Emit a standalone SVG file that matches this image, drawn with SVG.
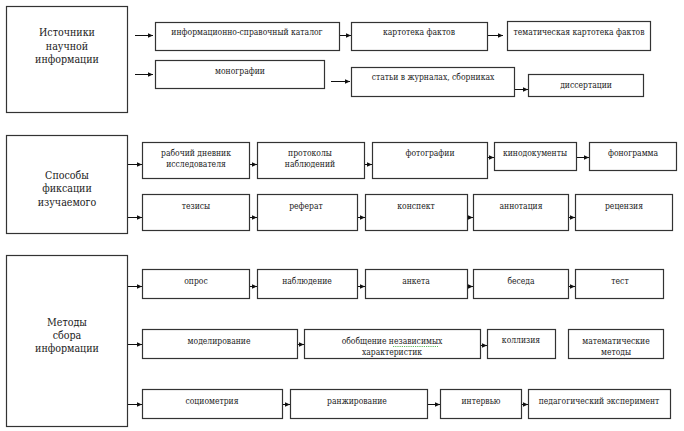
<svg xmlns="http://www.w3.org/2000/svg" width="684" height="431" viewBox="0 0 684 431">
<defs>
<marker id="ah" markerUnits="userSpaceOnUse" markerWidth="6" markerHeight="6" refX="5.5" refY="3" orient="auto">
<path d="M0,0.5 L5.5,3 L0,5.5 Z" fill="#111"/>
</marker>
<style>
rect{fill:#fff;stroke:#333;stroke-width:1.2}
text{fill:#222;text-anchor:middle;font-stretch:condensed}
.s{font-size:8.5px}
.b{font-size:10.6px}
#connectors line{stroke:#111;stroke-width:1;marker-end:url(#ah)}
</style>
</defs>
<rect x="0" y="0" width="684" height="431" style="fill:#fff;stroke:none"/>
<g font-family="DejaVu Serif Condensed, DejaVu Serif, serif">
<g id="n-sources"><rect x="6.5" y="6.5" width="121" height="106"/><text class="b" x="67" y="36">Источники</text><text class="b" x="67" y="50">научной</text><text class="b" x="67" y="63">информации</text></g>
<g id="n-catalog"><rect x="155.5" y="22.5" width="184" height="28"/><text class="s" x="247" y="35">информационно-справочный каталог</text></g>
<g id="n-kartoteka"><rect x="351.5" y="22.5" width="136" height="28"/><text class="s" x="419" y="35">картотека фактов</text></g>
<g id="n-tematich"><rect x="507.5" y="21.5" width="143" height="29"/><text class="s" x="579" y="35">тематическая картотека фактов</text></g>
<g id="n-monografii"><rect x="155.5" y="60.5" width="169" height="28"/><text class="s" x="240" y="74">монографии</text></g>
<g id="n-stati"><rect x="351.5" y="67.5" width="163" height="29"/><text class="s" x="433" y="80">статьи в журналах, сборниках</text></g>
<g id="n-dissertacii"><rect x="528.5" y="74.5" width="115" height="22"/><text class="s" x="586" y="88">диссертации</text></g>

<g id="n-sposoby"><rect x="6.5" y="135.5" width="121" height="98"/><text class="b" x="67" y="179">Способы</text><text class="b" x="67" y="192">фиксации</text><text class="b" x="67" y="206">изучаемого</text></g>
<g id="n-dnevnik"><rect x="142.5" y="142.5" width="107" height="36"/><text class="s" x="196" y="156">рабочий дневник</text><text class="s" x="196" y="167">исследователя</text></g>
<g id="n-protokoly"><rect x="257.5" y="142.5" width="107" height="36"/><text class="s" x="310" y="156">протоколы</text><text class="s" x="310" y="167">наблюдений</text></g>
<g id="n-foto"><rect x="372.5" y="142.5" width="115" height="36"/><text class="s" x="430" y="156">фотографии</text></g>
<g id="n-kino"><rect x="494.5" y="142.5" width="82" height="28"/><text class="s" x="535" y="156">кинодокументы</text></g>
<g id="n-fonogramma"><rect x="589.5" y="142.5" width="87" height="28"/><text class="s" x="633" y="156">фонограмма</text></g>
<g id="n-tezisy"><rect x="142.5" y="194.5" width="107" height="36"/><text class="s" x="196" y="209">тезисы</text></g>
<g id="n-referat"><rect x="257.5" y="194.5" width="100" height="36"/><text class="s" x="306" y="209">реферат</text></g>
<g id="n-konspekt"><rect x="365.5" y="194.5" width="102" height="36"/><text class="s" x="416" y="209">конспект</text></g>
<g id="n-annotaciya"><rect x="473.5" y="194.5" width="95" height="36"/><text class="s" x="521" y="209">аннотация</text></g>
<g id="n-recenziya"><rect x="575.5" y="194.5" width="97" height="36"/><text class="s" x="624" y="209">рецензия</text></g>

<g id="n-metody"><rect x="6.5" y="255.5" width="121" height="171"/><text class="b" x="67" y="326">Методы</text><text class="b" x="67" y="339">сбора</text><text class="b" x="67" y="352">информации</text></g>
<g id="n-opros"><rect x="142.5" y="269.5" width="107" height="29"/><text class="s" x="196" y="284">опрос</text></g>
<g id="n-nabl"><rect x="257.5" y="269.5" width="100" height="29"/><text class="s" x="307" y="284">наблюдение</text></g>
<g id="n-anketa"><rect x="365.5" y="269.5" width="102" height="29"/><text class="s" x="416" y="284">анкета</text></g>
<g id="n-beseda"><rect x="473.5" y="269.5" width="95" height="29"/><text class="s" x="521" y="284">беседа</text></g>
<g id="n-test"><rect x="575.5" y="269.5" width="88" height="29"/><text class="s" x="620" y="284">тест</text></g>
<g id="n-model"><rect x="142.5" y="329.5" width="155" height="29"/><text class="s" x="219" y="344">моделирование</text></g>
<g id="n-obobsh"><rect x="304.5" y="329.5" width="176" height="29"/><text class="s" x="392" y="344">обобщение независимых</text><text class="s" x="392" y="355">характеристик</text><path d="M393,346.5 h45" stroke="#3a3" stroke-width="0.8" stroke-dasharray="1.2 1" fill="none"/></g>
<g id="n-kolliziya"><rect x="487.5" y="329.5" width="68" height="29"/><text class="s" x="521" y="343">коллизия</text></g>
<g id="n-matem"><rect x="568.5" y="329.5" width="95" height="29"/><text class="s" x="616" y="344">математические</text><text class="s" x="616" y="355">методы</text></g>
<g id="n-sociometr"><rect x="142.5" y="389.5" width="140" height="29"/><text class="s" x="212" y="404">социометрия</text></g>
<g id="n-ranzh"><rect x="290.5" y="389.5" width="137" height="29"/><text class="s" x="357" y="404">ранжирование</text></g>
<g id="n-intervyu"><rect x="440.5" y="389.5" width="81" height="29"/><text class="s" x="481" y="404">интервью</text></g>
<g id="n-pedeksp"><rect x="528.5" y="389.5" width="142" height="29"/><text class="s" x="599" y="404">педагогический эксперимент</text></g>
</g>
<g id="connectors">
<line x1="135" y1="35.5" x2="153" y2="35.5"/>
<line x1="340" y1="35.5" x2="351" y2="35.5"/>
<line x1="488" y1="35.5" x2="503" y2="35.5"/>
<line x1="135" y1="74.5" x2="153" y2="74.5"/>
<line x1="331" y1="81.5" x2="350" y2="81.5"/>
<line x1="515" y1="89.5" x2="528" y2="89.5"/>
<line x1="128" y1="164.5" x2="142" y2="164.5"/>
<line x1="250" y1="164.5" x2="257" y2="164.5"/>
<line x1="365" y1="164.5" x2="372" y2="164.5"/>
<line x1="488" y1="157.5" x2="494" y2="157.5"/>
<line x1="577" y1="157.5" x2="589" y2="157.5"/>
<line x1="128" y1="217.5" x2="142" y2="217.5"/>
<line x1="250" y1="217.5" x2="257" y2="217.5"/>
<line x1="358" y1="217.5" x2="365" y2="217.5"/>
<line x1="468" y1="217.5" x2="473" y2="217.5"/>
<line x1="569" y1="217.5" x2="575" y2="217.5"/>
<line x1="128" y1="286.5" x2="142" y2="286.5"/>
<line x1="250" y1="286.5" x2="257" y2="286.5"/>
<line x1="358" y1="286.5" x2="365" y2="286.5"/>
<line x1="468" y1="286.5" x2="473" y2="286.5"/>
<line x1="569" y1="286.5" x2="575" y2="286.5"/>
<line x1="128" y1="344.5" x2="142" y2="344.5"/>
<line x1="298" y1="344.5" x2="304" y2="344.5"/>
<line x1="481" y1="345.5" x2="487" y2="345.5"/>
<line x1="128" y1="404.5" x2="142" y2="404.5"/>
<line x1="283" y1="404.5" x2="290" y2="404.5"/>
<line x1="428" y1="404.5" x2="440" y2="404.5"/>
<line x1="522" y1="404.5" x2="528" y2="404.5"/>
</g>
</svg>
